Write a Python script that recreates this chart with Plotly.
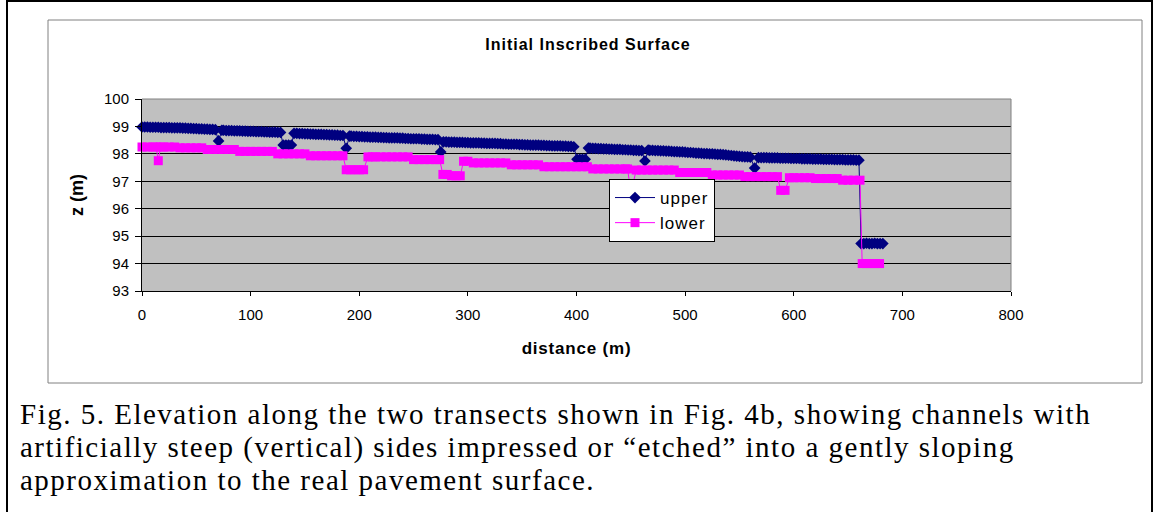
"""Initial inscribed surface: elevation along two transects."""

import plotly.graph_objects as go

# distance along transect (m) and elevation z (m)
upper_x = [
    0, 2.5, 5, 7.5, 10, 12.5, 15, 17.5, 20, 22.5, 25, 27.5, 30, 32.5,
    35, 37.5, 40, 42.5, 45, 47.5, 50, 52.5, 55, 57.5, 60, 62.5, 65, 67.5,
    70.5,
    73.5, 75, 77.5, 80, 82.5, 85, 87.5, 90, 92.5, 95, 97.5, 100, 102.5,
    105, 107.5, 110, 112.5, 115, 117.5, 120, 122.5, 125, 127.5,
    130, 132.5, 135, 137.5,
    140, 142.5, 145, 147.5, 150, 152.5, 155, 157.5, 160, 162.5, 165,
    167.5, 170, 172.5, 175, 177.5, 180, 182.5, 185,
    188,
    191, 192.5, 195, 197.5, 200, 202.5, 205, 207.5, 210, 212.5, 215,
    217.5, 220, 222.5, 225, 227.5, 230, 232.5, 235, 237.5, 240, 242.5,
    245, 247.5, 250, 252.5, 255, 257.5, 260, 262.5, 265, 267.5, 270, 272.5,
    275,
    277.5, 280, 282.5, 285, 287.5, 290, 292.5, 295, 297.5, 300, 302.5,
    305, 307.5, 310, 312.5, 315, 317.5, 320, 322.5, 325, 327.5, 330,
    332.5, 335, 337.5, 340, 342.5, 345, 347.5, 350, 352.5, 355, 357.5,
    360, 362.5, 365, 367.5, 370, 372.5, 375, 377.5, 380, 382.5, 385,
    387.5, 390, 392.5, 395, 397.5,
    400.5, 403, 405.5, 408,
    411, 412.5, 415, 417.5, 420, 422.5, 425, 427.5, 430, 432.5, 435,
    437.5, 440, 442.5, 445, 447.5, 450, 452.5, 455, 457.5, 460,
    463,
    466, 467.5, 470, 472.5, 475, 477.5, 480, 482.5, 485, 487.5, 490,
    492.5, 495, 497.5, 500, 502.5, 505, 507.5, 510, 512.5, 515, 517.5,
    520, 522.5, 525, 527.5, 530, 532.5, 535, 537.5, 540, 542.5, 545,
    547.5, 550, 552.5, 555, 557.5, 560,
    564,
    567.5, 570, 572.5, 575, 577.5, 580, 582.5, 585, 587.5, 590, 592.5,
    595, 597.5, 600, 602.5, 605, 607.5, 610, 612.5, 615, 617.5, 620,
    622.5, 625, 627.5, 630, 632.5, 635, 637.5, 640, 642.5, 645, 647.5,
    650, 652.5, 655, 657.5, 660,
    662, 664.5, 667, 669.5, 672, 674.5, 677, 679.5, 682,
]
upper_z = [
    98.98, 98.98, 98.98, 98.97, 98.97, 98.97, 98.97, 98.96, 98.96, 98.96,
    98.96, 98.95, 98.95, 98.95, 98.95, 98.94, 98.94, 98.93, 98.93, 98.92,
    98.92, 98.91, 98.91, 98.90, 98.90, 98.89, 98.89, 98.88,
    98.47,
    98.86, 98.86, 98.85, 98.85, 98.85, 98.84, 98.84, 98.84, 98.83, 98.83,
    98.82, 98.82, 98.82, 98.81, 98.81, 98.81, 98.80, 98.80, 98.79, 98.79,
    98.79, 98.78, 98.78,
    98.32, 98.32, 98.32, 98.32,
    98.75, 98.75, 98.74, 98.74, 98.73, 98.73, 98.72, 98.72, 98.71, 98.71,
    98.71, 98.70, 98.70, 98.69, 98.69, 98.68, 98.68, 98.67, 98.67,
    98.20,
    98.65, 98.65, 98.64, 98.64, 98.63, 98.63, 98.62, 98.62, 98.61, 98.61,
    98.61, 98.60, 98.60, 98.59, 98.59, 98.58, 98.58, 98.58, 98.58, 98.57,
    98.57, 98.56, 98.56, 98.55, 98.55, 98.55, 98.55, 98.54, 98.54, 98.53,
    98.53, 98.53, 98.52, 98.52,
    98.07,
    98.44, 98.44, 98.43, 98.43, 98.43, 98.42, 98.42, 98.42, 98.41, 98.41,
    98.40, 98.40, 98.40, 98.40, 98.39, 98.39, 98.38, 98.38, 98.38, 98.38,
    98.37, 98.37, 98.36, 98.36, 98.35, 98.35, 98.35, 98.35, 98.34, 98.34,
    98.33, 98.33, 98.32, 98.32, 98.32, 98.32, 98.31, 98.31, 98.30, 98.30,
    98.29, 98.29, 98.29, 98.29, 98.28, 98.28, 98.27, 98.27, 98.26,
    97.80, 97.80, 97.80, 97.80,
    98.21, 98.21, 98.20, 98.20, 98.19, 98.19, 98.18, 98.18, 98.17, 98.17,
    98.16, 98.16, 98.16, 98.15, 98.15, 98.14, 98.14, 98.13, 98.13, 98.12,
    98.12,
    97.74,
    98.14, 98.13, 98.13, 98.12, 98.12, 98.11, 98.11, 98.10, 98.10, 98.09,
    98.08, 98.08, 98.07, 98.07, 98.06, 98.05, 98.05, 98.04, 98.03, 98.03,
    98.02, 98.01, 98.01, 98.00, 98.00, 97.99, 97.98, 97.98, 97.97, 97.96,
    97.95, 97.94, 97.93, 97.92, 97.91, 97.90, 97.89, 97.89, 97.88,
    97.48,
    97.86, 97.86, 97.86, 97.86, 97.85, 97.85, 97.85, 97.85, 97.84, 97.84,
    97.84, 97.84, 97.83, 97.83, 97.83, 97.83, 97.82, 97.82, 97.82, 97.82,
    97.81, 97.81, 97.81, 97.81, 97.80, 97.80, 97.80, 97.80, 97.79, 97.79,
    97.79, 97.79, 97.78, 97.78, 97.78, 97.78, 97.77, 97.77,
    94.73, 94.73, 94.74, 94.73, 94.73, 94.74, 94.73, 94.73, 94.73,
]

lower_x = [
    0, 5, 10, 13, 15, 17, 20, 25, 30, 35, 40, 45, 50, 55, 60, 65, 70,
    75, 80, 85, 90, 95, 100, 105, 110, 115, 120, 125, 130, 135, 140,
    145, 150, 155, 160, 165, 170, 175, 180, 185, 188, 192, 196, 200,
    204, 208, 212, 215, 220, 225, 230, 235, 240, 245, 250, 255, 260,
    265, 270, 274, 277, 281, 285, 289, 293, 296, 300, 305, 310, 315,
    320, 325, 330, 335, 340, 345, 350, 355, 360, 365, 370, 375, 380,
    385, 390, 395, 400, 405, 410, 415, 420, 425, 430, 435, 440, 445,
    447, 449, 452, 455, 460, 465, 470, 475, 480, 485, 490, 495, 500,
    505, 510, 515, 520, 525, 530, 535, 540, 545, 550, 555, 560, 565,
    570, 575, 580, 585, 588, 592, 596, 600, 605, 610, 615, 620, 625,
    630, 635, 640, 645, 650, 655, 661, 663, 667, 671, 675, 679,
]
lower_z = [
    98.25, 98.25, 98.25, 98.25, 97.75, 98.25, 98.25, 98.25, 98.25,
    98.22, 98.22, 98.22, 98.22, 98.22,
    98.16, 98.16, 98.16, 98.16, 98.16, 98.16,
    98.09, 98.09, 98.09, 98.09, 98.09, 98.09, 98.09,
    98.00, 98.00, 98.00, 98.00, 98.00, 98.00,
    97.93, 97.93, 97.93, 97.93, 97.93, 97.93, 97.93,
    97.42, 97.42, 97.42, 97.42, 97.42,
    97.89, 97.89, 97.89, 97.89, 97.89, 97.89, 97.89, 97.89, 97.89,
    97.79, 97.79, 97.79, 97.79, 97.79, 97.79,
    97.25, 97.25, 97.20, 97.20, 97.20,
    97.73, 97.73,
    97.67, 97.67, 97.67, 97.67, 97.67, 97.67, 97.67,
    97.60, 97.60, 97.60, 97.60, 97.60, 97.60,
    97.53, 97.53, 97.53, 97.53, 97.53, 97.53, 97.53, 97.53, 97.53,
    97.45, 97.45, 97.45, 97.45, 97.45, 97.45, 97.45, 97.45,
    96.90, 96.90,
    97.41, 97.41, 97.41, 97.41, 97.41, 97.41, 97.41, 97.41,
    97.32, 97.32, 97.32, 97.32, 97.32, 97.32,
    97.23, 97.23, 97.23, 97.23, 97.23, 97.23,
    97.17, 97.17, 97.17, 97.17, 97.17, 97.17, 97.17,
    96.67, 96.67,
    97.13, 97.13, 97.13, 97.13, 97.13,
    97.10, 97.10, 97.10, 97.10, 97.10,
    97.04, 97.04, 97.04, 97.04,
    94.00, 94.00, 94.00, 94.00, 94.00,
]

x_ticks = [0, 100, 200, 300, 400, 500, 600, 700, 800]
y_ticks = [93, 94, 95, 96, 97, 98, 99, 100]

caption_lines = [
    "Fig. 5. Elevation along the two transects shown in Fig. 4b, showing channels with",
    "artificially steep (vertical) sides impressed or \u201cetched\u201d into a gently sloping",
    "approximation to the real pavement surface.",
]

assert len(upper_x) == len(upper_z)
assert len(lower_x) == len(lower_z)

W, H = 1159, 512
L, R, T, B = 142, 1011, 99, 291  # plot area in pixels


def px(x):
    return (x - L) / (R - L)


def py(y):
    return (B - y) / (B - T)


def spaced(text, gap):
    # Excel-style loose letter spacing
    return f'<span style="letter-spacing:{gap}px">{text}</span>'


fig = go.Figure()
fig.add_trace(
    go.Scatter(
        x=upper_x,
        y=upper_z,
        mode="lines+markers",
        name=spaced("upper", 1),
        line=dict(color="#000080", width=1),
        marker=dict(symbol="diamond", size=9, color="#000080"),
        cliponaxis=False,
    )
)
fig.add_trace(
    go.Scatter(
        x=lower_x,
        y=lower_z,
        mode="lines+markers",
        name=spaced("lower", 1),
        line=dict(color="#FF00FF", width=1),
        marker=dict(symbol="square", size=9, color="#FF00FF"),
        cliponaxis=False,
    )
)

shapes = [
    # outer page frame
    dict(type="rect", xref="paper", yref="paper",
         x0=px(7), x1=px(1152), y0=py(530), y1=py(1),
         line=dict(color="black", width=2), layer="below"),
    # chart area border
    dict(type="rect", xref="paper", yref="paper",
         x0=px(48), x1=px(1142), y0=py(383), y1=py(20),
         line=dict(color="#808080", width=1), layer="below"),
    # top and right edges of plot area
    dict(type="line", xref="paper", yref="paper", x0=0, x1=1, y0=1, y1=1,
         line=dict(color="#808080", width=1), layer="above"),
    dict(type="line", xref="paper", yref="paper", x0=1, x1=1, y0=0, y1=1,
         line=dict(color="#808080", width=1), layer="above"),
]

annotations = []
for i, line in enumerate(caption_lines):
    annotations.append(
        dict(
            text=spaced(line, 1.5), xref="paper", yref="paper",
            x=px(18), y=py(414 + 33 * i),
            xanchor="left", yanchor="middle", showarrow=False,
            font=dict(family="Liberation Serif, Times New Roman, serif",
                      size=29, color="black"),
        )
    )

fig.update_layout(
    width=W,
    height=H,
    margin=dict(l=L, r=W - R, t=T, b=H - B, pad=0),
    paper_bgcolor="white",
    plot_bgcolor="#C0C0C0",
    font=dict(family="Arial, Liberation Sans, sans-serif", color="black", size=15),
    title=dict(
        text=spaced("<b>Initial Inscribed Surface</b>", 1),
        x=px(588), xref="paper", xanchor="center",
        y=1 - 44 / H, yanchor="middle",
        font=dict(size=16, color="black"),
    ),
    showlegend=True,
    legend=dict(
        x=px(609), y=py(179), xanchor="left", yanchor="top",
        bgcolor="white", bordercolor="black", borderwidth=1,
        font=dict(size=17), itemwidth=40,
    ),
    shapes=shapes,
    annotations=annotations,
)

fig.update_xaxes(
    range=[0, 800],
    tickvals=x_ticks,
    ticks="outside", ticklen=4, tickcolor="black",
    showline=True, linecolor="black", linewidth=1,
    showgrid=False, zeroline=False,
    tickfont=dict(size=15), ticklabelstandoff=6,
    title=dict(text=spaced("<b>distance (m)</b>", 0.8),
               font=dict(size=17), standoff=20),
)
fig.update_yaxes(
    range=[93, 100],
    tickvals=y_ticks,
    ticks="outside", ticklen=6, tickcolor="black",
    showline=True, linecolor="black", linewidth=1,
    showgrid=True, gridcolor="black", gridwidth=1,
    zeroline=False,
    tickfont=dict(size=15), ticklabelstandoff=3,
    title=dict(text="<b>z (m)</b>", font=dict(size=18), standoff=15),
)

fig.write_html(
    "out.html",
    config={"displayModeBar": False},
    post_script="document.body.style.margin = '0px';",
)
